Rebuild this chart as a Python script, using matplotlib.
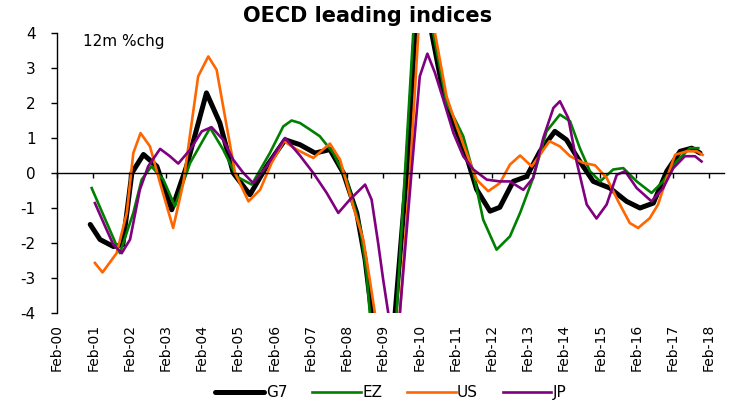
import matplotlib
matplotlib.use("Agg")
import matplotlib.pyplot as plt

# dates in decimal years (year + (month-1)/12), values = 12m %chg
g7_t = [2001.0, 2001.27, 2001.64, 2001.9, 2002.15, 2002.47, 2002.84, 2003.25, 2003.66, 2004.21,
        2004.58, 2004.95, 2005.41, 2005.87, 2006.38, 2006.79, 2007.21, 2007.62, 2007.99, 2008.36,
        2008.59, 2008.77, 2009.1, 2009.42, 2009.74, 2009.97, 2010.2, 2010.43, 2010.75, 2011.03,
        2011.39, 2011.67, 2012.04, 2012.31, 2012.68, 2013.05, 2013.42, 2013.83, 2014.15, 2014.52,
        2014.89, 2015.35, 2015.81, 2016.18, 2016.55, 2016.92, 2017.29, 2017.61, 2017.84]
g7_v = [-1.47, -1.9, -2.1, -2.05, 0.0, 0.53, 0.19, -1.05, 0.19, 2.29,
        1.43, 0.0, -0.62, 0.19, 0.95, 0.81, 0.57, 0.67, 0.0, -1.14,
        -2.47, -4.0, -6.5, -4.0, 0.0, 4.0, 6.5, 4.0, 2.29, 1.43,
        0.48, -0.47, -1.09, -0.98, -0.24, -0.1, 0.62, 1.19, 0.95, 0.33,
        -0.24, -0.43, -0.81, -1.0, -0.86, 0.05, 0.62, 0.71, 0.57]

ez_t = [2001.04, 2001.82, 2002.19, 2002.42, 2002.69, 2003.02, 2003.34, 2003.76, 2004.31, 2004.67,
        2005.04, 2005.46, 2005.96, 2006.33, 2006.56, 2006.79, 2007.07, 2007.34, 2007.71, 2008.08,
        2008.45, 2008.63, 2008.72, 2009.1, 2009.46, 2009.69, 2009.92, 2010.2, 2010.47, 2010.84,
        2011.12, 2011.3, 2011.58, 2011.85, 2012.22, 2012.59, 2012.87, 2013.23, 2013.6, 2013.97,
        2014.25, 2014.52, 2014.8, 2015.08, 2015.44, 2015.72, 2016.09, 2016.5, 2016.82, 2017.19,
        2017.56, 2017.79]
ez_v = [-0.43, -2.29, -1.14, -0.19, 0.19, -0.19, -0.95, 0.29, 1.29, 0.67,
        -0.1, -0.33, 0.57, 1.33, 1.5, 1.43, 1.24, 1.05, 0.57, -0.19,
        -1.52, -2.86, -4.0, -6.3, -4.0, 0.0, 4.0, 6.4, 4.0, 2.0,
        1.43, 1.05, 0.0, -1.33, -2.19, -1.81, -1.14, -0.14, 1.19, 1.67,
        1.48, 0.71, 0.05, -0.24, 0.1, 0.14, -0.24, -0.57, -0.24, 0.33,
        0.71, 0.71]

us_t = [2001.13, 2001.34, 2001.73, 2002.01, 2002.19, 2002.39, 2002.65, 2002.93, 2003.29, 2003.57,
        2003.98, 2004.26, 2004.49, 2004.77, 2005.0, 2005.37, 2005.69, 2006.01, 2006.35, 2006.7,
        2007.16, 2007.62, 2007.9, 2008.26, 2008.54, 2008.72, 2008.86, 2009.2, 2009.55, 2009.83,
        2010.06, 2010.3, 2010.52, 2010.84, 2011.12, 2011.39, 2011.67, 2011.99, 2012.31, 2012.59,
        2012.87, 2013.19, 2013.42, 2013.68, 2013.97, 2014.25, 2014.61, 2014.94, 2015.26, 2015.58,
        2015.9, 2016.13, 2016.45, 2016.68, 2016.92, 2017.15, 2017.47, 2017.75, 2017.91]
us_v = [-2.57, -2.84, -2.29, -1.14, 0.57, 1.14, 0.76, -0.29, -1.57, -0.29,
        2.76, 3.33, 2.95, 1.33, 0.0, -0.81, -0.48, 0.29, 0.91, 0.67,
        0.43, 0.84, 0.38, -0.95, -1.9, -3.05, -4.0, -6.3, -4.0, 0.0,
        4.0, 6.2, 4.0, 2.19, 1.33, 0.57, -0.19, -0.52, -0.29, 0.24,
        0.5, 0.19, 0.52, 0.91, 0.76, 0.48, 0.29, 0.22, -0.14, -0.81,
        -1.43, -1.57, -1.29, -0.9, -0.14, 0.52, 0.62, 0.62, 0.52]

jp_t = [2001.13, 2001.41, 2001.64, 2001.87, 2002.1, 2002.37, 2002.6, 2002.93, 2003.2, 2003.43,
        2003.76, 2004.08, 2004.35, 2004.67, 2004.95, 2005.23, 2005.5, 2005.87, 2006.38, 2006.79,
        2007.16, 2007.53, 2007.85, 2008.17, 2008.59, 2008.77, 2008.95, 2009.09, 2009.23, 2009.4,
        2009.55, 2009.87, 2010.1, 2010.31, 2010.52, 2010.75, 2011.03, 2011.3, 2011.58, 2011.95,
        2012.31, 2012.59, 2012.96, 2013.23, 2013.51, 2013.79, 2013.97, 2014.2, 2014.43, 2014.71,
        2014.98, 2015.26, 2015.54, 2015.77, 2016.09, 2016.5, 2016.82, 2017.1, 2017.42, 2017.7,
        2017.88]
jp_v = [-0.86, -1.52, -2.05, -2.29, -1.9, -0.48, 0.19, 0.69, 0.48, 0.27,
        0.67, 1.19, 1.31, 0.95, 0.38, 0.0, -0.29, 0.19, 1.0, 0.5,
        0.0, -0.57, -1.14, -0.76, -0.33, -0.76, -2.0, -3.05, -4.0, -5.2,
        -4.0, 0.0, 2.76, 3.41, 2.86, 2.1, 1.14, 0.48, 0.1, -0.19,
        -0.24, -0.24, -0.48, -0.14, 1.0, 1.86, 2.05, 1.57, 0.33, -0.9,
        -1.3, -0.9, -0.05, 0.05, -0.43, -0.81, -0.43, 0.14, 0.48, 0.48,
        0.33]

years = list(range(2000, 2019))
xticks = [y + 1 / 12 for y in years]
xlabels = ["Feb-%02d" % (y % 100) for y in years]
yticks = [-4, -3, -2, -1, 0, 1, 2, 3, 4]

fig = plt.figure(figsize=(7.31, 4.03), dpi=100)
ax = fig.add_axes([0.078, 0.2233, 0.9124, 0.6948])

ax.plot(g7_t, g7_v, color="black", lw=3.6, label="G7", solid_capstyle="round")
ax.plot(ez_t, ez_v, color="#008000", lw=1.9, label="EZ")
ax.plot(us_t, us_v, color="#FF6600", lw=1.9, label="US")
ax.plot(jp_t, jp_v, color="#800080", lw=1.9, label="JP")

# x axis line sits at zero, labels stay at the bottom (set position before ticks)
ax.spines["top"].set_visible(False)
ax.spines["right"].set_visible(False)
ax.spines["bottom"].set_position(("data", 0))
ax.spines["bottom"].set_linewidth(1.0)
ax.spines["left"].set_linewidth(1.0)

ax.set_xlim(2000 + 1 / 12, 2018.5)
ax.set_ylim(-4, 4)
ax.set_yticks(yticks)
ax.set_yticklabels([str(v) for v in yticks], fontsize=11)
ax.set_xticks(xticks)
ax.set_xticklabels(xlabels, rotation=90, fontsize=10)
ax.tick_params(axis="y", direction="out", length=4.5, width=1, pad=11)
ax.tick_params(axis="x", direction="out", length=3.5, width=1, pad=105)

ax.text(0.039, 0.968, "12m %chg", transform=ax.transAxes, fontsize=11, va="center", ha="left")
fig.text(0.503, 0.96, "OECD leading indices", fontsize=15, fontweight="bold", ha="center", va="center")

fig.legend(loc="center", bbox_to_anchor=(0.535, 0.025), ncol=4, frameon=False, fontsize=11,
           handlelength=3.2, handletextpad=0.1, columnspacing=1.6)

fig.savefig("out.png", dpi=100)
